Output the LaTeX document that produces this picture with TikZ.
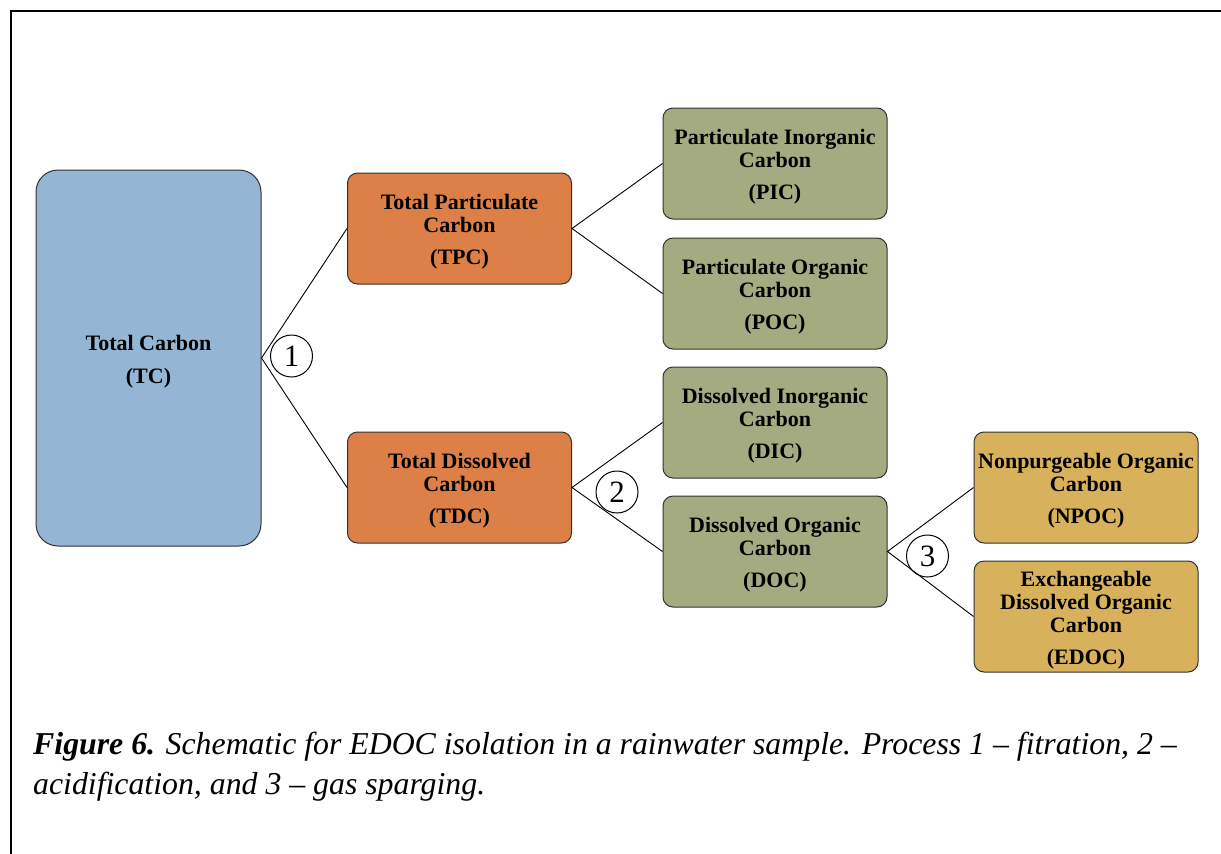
\documentclass[tikz,border=0pt]{standalone}
\usepackage{fontspec}
\setmainfont{Liberation Serif}
\definecolor{tcblue}{RGB}{148,181,211}
\definecolor{orng}{RGB}{221,128,71}
\definecolor{olive}{RGB}{165,171,129}
\definecolor{gold}{RGB}{216,177,92}
\definecolor{boxline}{RGB}{50,50,50}
\newcommand{\tgap}{\rule{0pt}{22pt}}
\tikzset{
  x=1pt, y=-1pt,
  box/.style={draw=boxline, line width=1pt, rounded corners=10pt,
    minimum width=224pt, minimum height=111pt, align=center, inner sep=0pt,
    font=\fontsize{22}{23}\selectfont\bfseries},
  conn/.style={draw=black, line width=0.9pt},
  proc/.style={circle, draw=black, line width=1pt, minimum size=42pt, inner sep=0pt,
    font=\fontsize{31}{31}\selectfont},
  captext/.style={anchor=base west, inner sep=0pt, font=\fontsize{31.8}{34}\selectfont\itshape},
}
\begin{document}
\begin{tikzpicture}
\fill[white] (0,0) rectangle (1221,854);
\useasboundingbox (0,0) rectangle (1221,854);
\draw[line width=2pt, line join=miter] (11,854) -- (11,11) -- (1221,11);

\node[box, fill=tcblue, minimum width=225pt, minimum height=376pt, rounded corners=22pt] (tc) at (148.5,358) {\rule{0pt}{23pt}Total Carbon\\[10pt](TC)};
\node[box, fill=orng] (tpc) at (459.5,228.5) {\tgap Total Particulate\\Carbon\\[9pt](TPC)};
\node[box, fill=orng] (tdc) at (459.5,487.5) {\tgap Total Dissolved\\Carbon\\[9pt](TDC)};
\node[box, fill=olive] (pic) at (775,163.5) {\tgap Particulate Inorganic\\Carbon\\[9pt](PIC)};
\node[box, fill=olive] (poc) at (775,293.5) {\tgap Particulate Organic\\Carbon\\[9pt](POC)};
\node[box, fill=olive] (dic) at (775,422.5) {\tgap Dissolved Inorganic\\Carbon\\[9pt](DIC)};
\node[box, fill=olive] (doc) at (775,551.5) {\tgap Dissolved Organic\\Carbon\\[9pt](DOC)};
\node[box, fill=gold] (npoc) at (1086,487.5) {\tgap Nonpurgeable Organic\\Carbon\\[9pt](NPOC)};
\node[box, fill=gold] (edoc) at (1086,616.5) {\tgap Exchangeable\\Dissolved Organic\\Carbon\\[9pt](EDOC)};

\draw[conn] (tpc.west) -- (tc.east) -- (tdc.west);
\draw[conn] (pic.west) -- (tpc.east) -- (poc.west);
\draw[conn] (dic.west) -- (tdc.east) -- (doc.west);
\draw[conn] (npoc.west) -- (doc.east) -- (edoc.west);

\node[proc] (p1) at (291.5,356) {1};
\node[proc] (p2) at (617,492) {2};
\node[proc] (p3) at (927.5,556) {3};

\node[captext] (cap1) at (33,754) {\textbf{Figure 6.} Schematic for EDOC isolation in a rainwater sample. Process 1 – fitration, 2 –};
\node[captext] (cap2) at (33,794) {acidification, and 3 – gas sparging.};
\end{tikzpicture}
\end{document}
